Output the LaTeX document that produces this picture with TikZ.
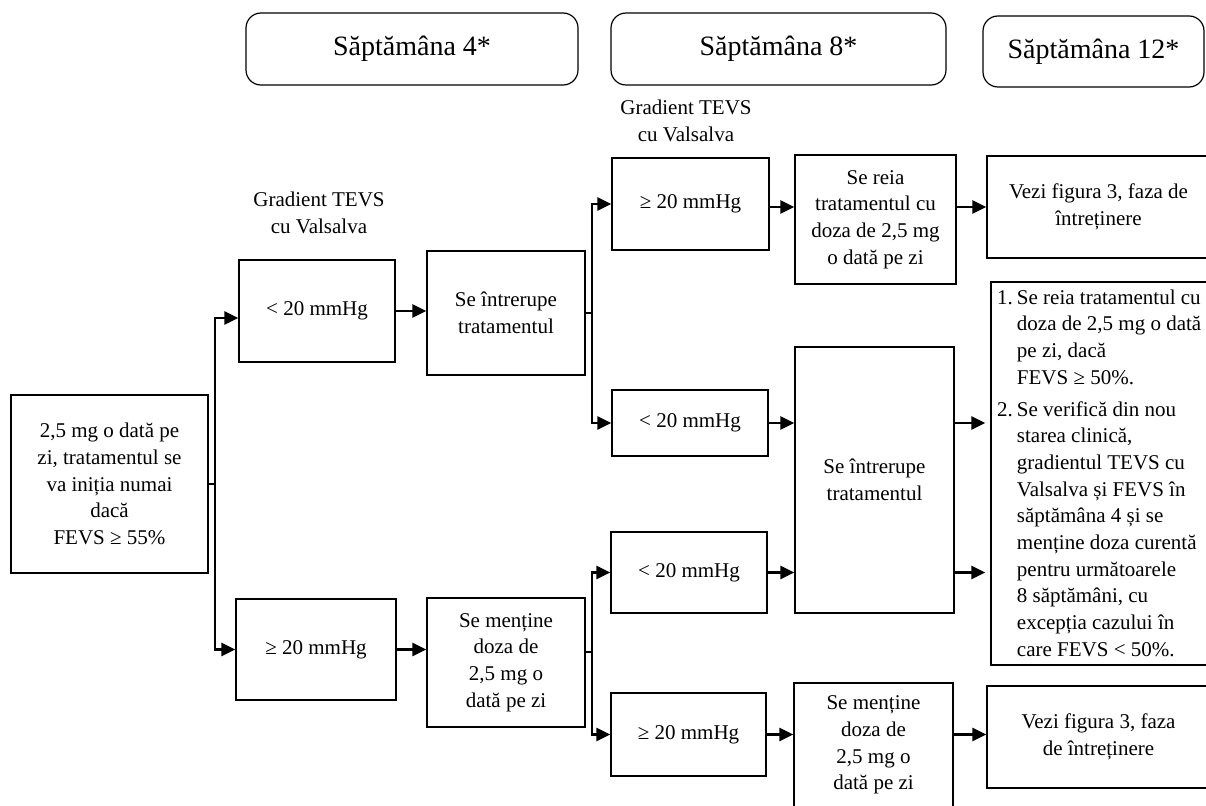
\documentclass[tikz,border=0pt]{standalone}
\usepackage{fontspec}
\setmainfont{Liberation Serif}
\usetikzlibrary{arrows.meta,calc}

\begin{document}
\begin{tikzpicture}[x=1pt,y=-1pt,
  box/.style={draw, line width=1.5pt, inner sep=0pt, align=center,
    font=\fontsize{21}{26.7}\selectfont},
  sz/.style 2 args={minimum width=#1pt, minimum height=#2pt},
  head/.style={draw, line width=1.2pt, rounded corners=15pt, inner sep=0pt,
    font=\fontsize{28}{33}\selectfont},
  lbl/.style={inner sep=0pt, align=center, font=\fontsize{21}{26.7}\selectfont},
  link/.style={line width=2.6pt},
  arr/.style={link, -{Triangle[length=14pt,width=13pt]}}]

\clip (0,0) rectangle (1206,805);

% week headers
\node[head, sz={332}{72}] (h4)  at (412,49)    {Săptămâna 4*};
\node[head, sz={335}{72}] (h8)  at (778.5,49)  {Săptămâna 8*};
\node[head, sz={221}{71}] (h12) at (1093.5,51.5) {Săptămâna 12*};

% gradient labels
\node[lbl] (g1) at (319,213) {Gradient TEVS\\cu Valsalva};
\node[lbl] (g2) at (686,121) {Gradient TEVS\\cu Valsalva};

% starting dose
\node[box, sz={197}{178}] (start) at (109.5,484)
  {2,5 mg o dată pe\\zi, tratamentul se\\va iniția numai\\dacă\\FEVS ≥ 55\%};

% week 4
\node[box, sz={156}{102}] (a1) at (317,311)   {< 20 mmHg};
\node[box, sz={160}{101}] (a2) at (316,649.5) {≥ 20 mmHg};
\node[box, sz={158}{124}] (b1) at (506,313)   {Se întrerupe\\tratamentul};
\node[box, sz={158}{129}] (b2) at (506,662.5) {Se menține\\doza de\\2,5 mg o\\dată pe zi};

% week 8
\node[box, sz={157}{92}] (c1) at (690.5,204)  {≥ 20 mmHg};
\node[box, sz={156}{66}] (c2) at (690,423)    {< 20 mmHg};
\node[box, sz={156}{81}] (c3) at (689,572.5)  {< 20 mmHg};
\node[box, sz={155}{83}] (c4) at (688.5,734.5) {≥ 20 mmHg};

\node[box, sz={161}{129}] (d1) at (875.5,219.5)
  {Se reia\\tratamentul cu\\doza de 2,5 mg\\o dată pe zi};
\node[box, sz={159}{266}] (d2) at (874.5,480) {Se întrerupe\\tratamentul};
\node[box, sz={159}{124}] (d3) at (873.5,745)
  {Se menține\\doza de\\2,5 mg o\\dată pe zi};

% week 12
\node[box, sz={223}{102}] (e1) at (1098.5,207)
  {Vezi figura 3, faza de\\întreținere};
\node[box, sz={240}{383}] (e2) at (1111,473.5) {};
\node[lbl, anchor=west, align=left] (e2t) at (997,475)
  {\begin{tabular}{@{}l@{\hspace{4pt}}l@{}}
   1. & Se reia tratamentul cu\\
      & doza de 2,5 mg o dată\\
      & pe zi, dacă\\
      & FEVS ≥ 50\%.\\[5pt]
   2. & Se verifică din nou\\
      & starea clinică,\\
      & gradientul TEVS cu\\
      & Valsalva și FEVS în\\
      & săptămâna 4 și se\\
      & menține doza curentă\\
      & pentru următoarele\\
      & 8 săptămâni, cu\\
      & excepția cazului în\\
      & care FEVS < 50\%.
   \end{tabular}};
\node[box, sz={223}{102}] (e3) at (1098.5,737)
  {Vezi figura 3, faza\\de întreținere};

% branching junctions
\coordinate (j1) at (215,484);
\coordinate (j2) at (592,313);
\coordinate (j3) at (592,652);

% connectors
\draw[link] (start.east) -- (j1);
\draw[arr] (j1) |- ($(a1.west)+(0,7)$);
\draw[arr] (j1) |- (a2.west);

\draw[arr] (a1.east) -- (a1.east -| b1.west);
\draw[arr] (a2.east) -- (a2.east -| b2.west);

\draw[link] (b1.east) -- (j2);
\draw[arr] (j2) |- (c1.west);
\draw[arr] (j2) |- (c2.west);

\draw[link] (b2.east |- j3) -- (j3);
\draw[arr] (j3) |- (c3.west);
\draw[arr] (j3) |- (c4.west);

\draw[arr] ($(c1.east)+(0,3)$) -- ($(c1.east -| d1.west)+(0,3)$);
\draw[arr] ($(c1.east -| d1.east)+(0,3)$) -- ($(c1.east -| e1.west)+(0,3)$);

\draw[arr] (c2.east) -- (c2.east -| d2.west);
\draw[arr] (c3.east) -- (c3.east -| d2.west);
\draw[arr] (c2.east -| d2.east) -- ($(c2.east -| e2.west)+(-5,0)$);
\draw[arr] (c3.east -| d2.east) -- ($(c3.east -| e2.west)+(-5,0)$);

\draw[arr] (c4.east) -- (c4.east -| d3.west);
\draw[arr] (c4.east -| d3.east) -- (c4.east -| e3.west);
\end{tikzpicture}
\end{document}
